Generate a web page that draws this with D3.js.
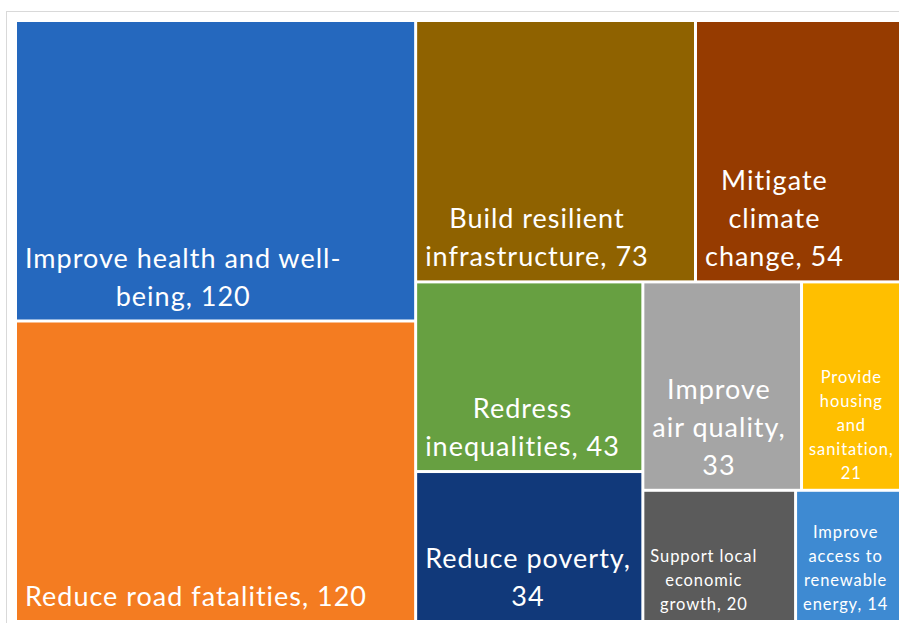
<!DOCTYPE html>
<html>
<head>
<meta charset="utf-8">
<title>Treemap</title>
<script src="https://d3js.org/d3.v7.min.js"></script>
<style>
  body { margin: 0; background: #fff; }
  svg { display: block; }
  .tile-label { fill: #fff; font-family: Lato, "Open Sans", sans-serif; }
</style>
</head>
<body>
<svg id="chart" width="899" height="623"></svg>
<script>
// data
const categories = [
  "Improve health and well-being",
  "Reduce road fatalities",
  "Build resilient infrastructure",
  "Mitigate climate change",
  "Redress inequalities",
  "Reduce poverty",
  "Improve air quality",
  "Provide housing and sanitation",
  "Support local economic growth",
  "Improve access to renewable energy"
];
const values = [120, 120, 73, 54, 43, 34, 33, 21, 20, 14];
const colors = ["#2568be", "#f47c21", "#8f6200", "#963b00", "#67a041",
  "#11397a", "#a5a5a5", "#ffbf00", "#5b5b5b", "#3e8ad2"];

const svg = d3.select("#chart");
const W = +svg.attr("width"), H = +svg.attr("height");

// frame of the chart area (runs off the picture to the right and bottom)
svg.append("rect")
  .attr("x", 6.5).attr("y", 11.5)
  .attr("width", W + 20).attr("height", H + 20)
  .attr("fill", "#fff")
  .attr("stroke", "#d9d9d9");

const root = d3.hierarchy({
    children: categories.map((c, i) => ({ name: c, value: values[i], color: colors[i] }))
  })
  .sum(d => d.value || 0);

d3.treemap()
  .tile(d3.treemapSquarify)
  .size([884, 598])
  .paddingInner(3)(root);

const g = svg.append("g").attr("transform", "translate(17,22)");

const cell = g.selectAll("g.cell")
  .data(root.leaves())
  .join("g")
  .attr("class", "cell");

cell.append("rect")
  .attr("x", d => d.x0)
  .attr("y", d => d.y0)
  .attr("width", d => d.x1 - d.x0)
  .attr("height", d => d.y1 - d.y0)
  .attr("fill", d => d.data.color);

// text measuring
const meas = svg.append("text").attr("class", "tile-label").attr("x", -999).attr("y", -999);
function textWidth(s, st) {
  meas.attr("font-size", st.size).attr("letter-spacing", st.ls).text(s);
  return meas.node().getComputedTextLength();
}

function tokens(str) {
  // break on spaces and after hyphens
  const out = [];
  str.split(" ").forEach((w, i) => {
    const parts = w.split(/(?<=-)/);
    parts.forEach((p, j) => out.push({ t: p, sep: (j === 0 && i > 0) ? " " : "" }));
  });
  return out;
}

function wrap(str, st, maxW) {
  const toks = tokens(str);
  const lines = [];
  let cur = "";
  toks.forEach(tk => {
    const test = cur === "" ? tk.t : cur + tk.sep + tk.t;
    if (cur !== "" && textWidth(test, st) > maxW) {
      lines.push(cur);
      cur = tk.t;
    } else {
      cur = test;
    }
  });
  if (cur) lines.push(cur);
  return lines;
}

const big = { size: 27, ls: 1, lh: 38, pad: 8, bottom: 14 };
const small = { size: 16.5, ls: 0.9, lh: 24, pad: 6, bottom: 10 };

cell.each(function(d) {
  const label = d.data.name + ", " + d.value;
  const w = d.x1 - d.x0, h = d.y1 - d.y0;
  let st = big;
  let lines = wrap(label, st, w - 2 * st.pad);
  const tooWide = lines.some(l => textWidth(l, st) > w - 2 * st.pad);
  if (tooWide || lines.length * st.lh > h - 2 * st.pad) {
    st = small;
    lines = wrap(label, st, w - 2 * st.pad);
  }
  const widths = lines.map(l => textWidth(l, st));
  const blockW = d3.max(widths);
  const cx = d.x0 + st.pad + blockW / 2;
  const lastY = d.y1 - st.bottom;
  const n = lines.length;
  d3.select(this).append("text")
    .attr("class", "tile-label")
    .attr("font-size", st.size)
    .attr("letter-spacing", st.ls)
    .attr("text-anchor", "middle")
    .selectAll("tspan")
    .data(lines)
    .join("tspan")
    .attr("x", cx)
    .attr("y", (l, i) => lastY - (n - 1 - i) * st.lh)
    .text(l => l);
});
meas.remove();
</script>
</body>
</html>
